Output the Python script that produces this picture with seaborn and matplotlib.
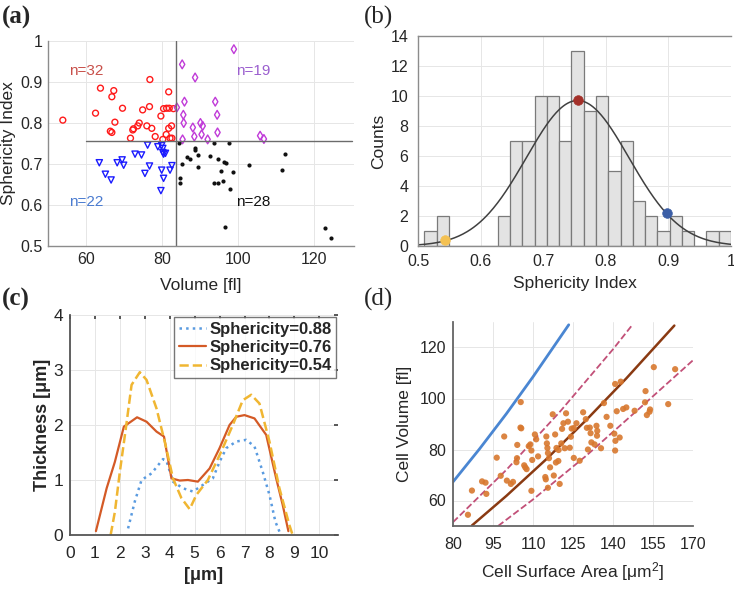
import numpy as np
import pandas as pd
import matplotlib
matplotlib.use("Agg")
import matplotlib.pyplot as plt
import seaborn as sns

# ---------------- Panel (a) data: volume vs sphericity ----------------
red_vol = [53.9, 62.5, 63.8, 67.3, 66.8, 69.6, 67.6, 66.4, 66.8, 71.7, 72.3, 72.5,
           73.6, 74.0, 74.9, 76.0, 76.7, 76.8, 77.3, 78.2, 79.7, 80.2, 81.1, 81.2,
           81.75, 81.9, 81.75, 82.5, 82.1, 82.6, 83.0, 80.4]
red_sph = [0.807, 0.824, 0.885, 0.879, 0.864, 0.836, 0.802, 0.780, 0.777, 0.763, 0.783, 0.786,
           0.793, 0.800, 0.832, 0.793, 0.840, 0.906, 0.787, 0.767, 0.817, 0.760, 0.772, 0.836,
           0.876, 0.836, 0.787, 0.793, 0.763, 0.763, 0.835, 0.835]
mag_vol = [83.9, 85.3, 98.9, 88.7, 85.9, 85.6, 85.7, 88.1, 85.4, 88.5, 90.1, 90.7,
           90.4, 92.0, 94.0, 94.5, 94.6, 105.8, 106.8]
mag_sph = [0.838, 0.943, 0.980, 0.911, 0.852, 0.820, 0.800, 0.789, 0.760, 0.767, 0.800, 0.793,
           0.772, 0.760, 0.852, 0.820, 0.777, 0.769, 0.761]
blue_vol = [63.5, 65.1, 66.6, 68.2, 69.5, 69.9, 72.9, 74.6, 75.5, 76.7, 76.2, 78.9,
            79.9, 80.2, 80.2, 80.4, 80.9, 79.9, 80.4, 79.7, 82.1, 82.6]
blue_sph = [0.703, 0.675, 0.661, 0.703, 0.710, 0.697, 0.724, 0.722, 0.677, 0.695, 0.746, 0.742,
            0.745, 0.738, 0.728, 0.724, 0.726, 0.685, 0.665, 0.635, 0.685, 0.696]
blk_vol = [84.4, 85.2, 84.8, 84.7, 86.5, 87.4, 88.7, 88.8, 89.4, 89.4, 92.6, 93.6,
           93.6, 94.8, 94.8, 95.4, 96.1, 96.4, 96.8, 97.7, 96.6, 98.0, 98.6, 103.0,
           111.6, 112.4, 123.0, 124.5]
blk_sph = [0.752, 0.699, 0.665, 0.654, 0.718, 0.712, 0.738, 0.734, 0.721, 0.693, 0.720, 0.752,
           0.653, 0.653, 0.711, 0.683, 0.659, 0.704, 0.702, 0.752, 0.547, 0.638, 0.680, 0.698,
           0.685, 0.724, 0.545, 0.519]
vol_split = 83.7
sph_split = 0.756
group_labels = ["n=32", "n=19", "n=22", "n=28"]

# ---------------- Panel (b) data: histogram ----------------
bin_edges = [0.51 + 0.0196 * k for k in range(26)]
bin_counts = [1, 2, 0, 0, 0, 0, 2, 7, 7, 10, 10, 7, 13, 9, 10, 5, 7, 3, 2, 1, 2, 1, 0, 1, 1]
fit_mean, fit_sigma, fit_peak = 0.755, 0.082, 9.7
mark_x = [0.756, 0.897, 0.543]
mark_y = [9.75, 2.2, 0.4]
mark_colors = ["#a33029", "#3b5ea6", "#f4c152"]

# ---------------- Panel (c) data: thickness profiles ----------------
p088_x = [2.33, 2.6, 2.87, 3.27, 3.73, 3.87, 4.13, 4.53, 4.93, 5.33, 5.73, 6.0, 6.27, 6.67,
          7.07, 7.4, 7.73, 8.0, 8.24, 8.43]
p088_y = [0.12, 0.61, 1.0, 1.12, 1.38, 1.35, 0.97, 0.85, 0.79, 0.91, 1.03, 1.33, 1.58, 1.7,
          1.73, 1.61, 1.15, 0.73, 0.24, 0.03]
p076_x = [1.04, 1.47, 1.8, 2.16, 2.69, 3.07, 3.47, 3.77, 4.07, 4.4, 4.73, 5.13, 5.6, 6.0,
          6.4, 6.67, 7.0, 7.4, 7.87, 8.27, 8.53, 8.76]
p076_y = [0.07, 0.85, 1.33, 1.97, 2.14, 2.06, 1.88, 1.79, 1.03, 0.99, 1.0, 0.97, 1.21, 1.58,
          2.0, 2.15, 2.18, 2.12, 1.82, 1.03, 0.55, 0.07]
p054_x = [1.63, 1.8, 2.0, 2.24, 2.47, 2.8, 3.07, 3.47, 3.83, 4.13, 4.47, 4.8, 5.07, 5.53,
          6.07, 6.53, 6.93, 7.27, 7.6, 8.0, 8.4, 8.8, 8.93]
p054_y = [0.0, 0.42, 1.15, 1.94, 2.73, 2.96, 2.82, 2.3, 1.64, 1.03, 0.67, 0.47, 0.73, 1.0,
          1.52, 2.0, 2.45, 2.55, 2.39, 1.7, 0.85, 0.18, 0.0]
profile_names = ["Sphericity=0.88", "Sphericity=0.76", "Sphericity=0.54"]

# ---------------- Panel (d) data: surface area vs volume ----------------
area = [85.6, 87.1, 90.9, 92.2, 92.5, 96.4, 97.9, 99.2, 100.2, 101.7, 102.5, 103.8, 104.0,
        104.1, 105.3, 105.6, 105.4, 106.7, 107.1, 107.6, 108.4, 109.0, 109.4, 109.7, 109.4,
        110.7, 111.2, 111.9, 114.6, 114.8, 115.0, 115.2, 115.4, 115.6, 116.0, 116.4, 115.6,
        117.4, 118.3, 118.8, 117.8, 118.6, 119.5, 119.6, 120.0, 120.6, 120.9, 121.4, 121.9,
        122.4, 123.1, 123.8, 124.2, 124.5, 125.3, 125.3, 126.3, 127.5, 128.8, 129.8, 130.6,
        130.2, 131.3, 131.6, 131.9, 133.1, 133.8, 134.1, 134.0, 135.5, 136.6, 137.6, 139.0,
        140.5, 140.9, 140.8, 140.8, 141.4, 142.5, 142.9, 143.8, 145.0, 148.1, 152.2, 152.0,
        152.7, 153.9, 153.7, 155.3, 160.7, 163.3]
volume = [54.4, 63.9, 67.5, 67.0, 62.6, 76.8, 69.7, 85.1, 67.8, 66.5, 67.3, 75.0, 76.6,
          81.8, 88.6, 88.3, 98.6, 73.8, 73.0, 72.3, 81.3, 82.0, 79.6, 75.9, 63.8,
          85.9, 84.0, 77.3, 69.2, 68.3, 85.1, 82.4, 80.6, 78.6, 76.6, 73.0, 65.0,
          93.8, 85.9, 80.6, 69.8, 74.9, 75.5, 79.8, 66.5, 82.4, 88.1, 90.3, 80.5,
          94.2, 90.9, 80.7, 85.0, 88.2, 76.7, 88.4, 90.3, 75.6, 94.6, 91.9, 80.0,
          88.5, 88.6, 86.4, 82.8, 82.0, 89.3, 87.3, 85.4, 80.5, 98.2, 92.8, 89.3,
          86.2, 83.4, 79.6, 105.7, 95.0, 84.7, 106.6, 95.9, 96.5, 95.2, 102.9, 98.5,
          93.5, 95.7, 94.8, 112.3, 97.8, 111.5]
sphere_A = [80.0, 90.0, 100.0, 110.0, 123.4]
sphere_V = [67.3, 80.3, 94.0, 108.5, 128.9]
mean_A = [87.1, 100.0, 115.0, 130.0, 145.0, 163.0]
mean_V = [50.2, 61.8, 76.2, 91.6, 107.9, 128.6]
upper_A = [80.0, 100.0, 120.0, 140.0, 147.5]
upper_V = [51.5, 72.0, 94.7, 119.3, 129.2]
lower_A = [96.9, 110.0, 130.0, 150.0, 170.0]
lower_V = [50.0, 60.4, 77.6, 96.2, 115.0]

# ---------------- Styling ----------------
sns.set_theme(style="white")
plt.rcParams["font.family"] = ["Liberation Sans", "DejaVu Sans"]
plt.rcParams["text.color"] = "#262626"
plt.rcParams["axes.labelcolor"] = "#262626"
plt.rcParams["xtick.color"] = "#262626"
plt.rcParams["ytick.color"] = "#262626"
plt.rcParams["mathtext.default"] = "regular"

W, H = 734, 589
fig = plt.figure(figsize=(W / 100, H / 100), dpi=100)


def add_ax(l, t, r, b):
    return fig.add_axes([l / W, 1 - b / H, (r - l) / W, (b - t) / H])


grid_kw = dict(color="#e6e6e6", linewidth=0.7)

# ---- (a) ----
axa = add_ax(48, 41, 354, 246)
sns.scatterplot(x=red_vol, y=red_sph, ax=axa, marker="o", s=18, facecolors="none",
                edgecolor="#ff1a1a", linewidth=1.0)
sns.scatterplot(x=mag_vol, y=mag_sph, ax=axa, marker="d", s=20, facecolors="none",
                edgecolor="#c03ad8", linewidth=1.0)
sns.scatterplot(x=blue_vol, y=blue_sph, ax=axa, marker="v", s=20, facecolors="none",
                edgecolor="#1a1aff", linewidth=1.0)
sns.scatterplot(x=blk_vol, y=blk_sph, ax=axa, marker="o", s=9, color="#111111",
                edgecolor="#111111", linewidth=0)
axa.plot([vol_split, vol_split], [0.5, 1.0], color="#6b6b6b", lw=1.0, zorder=1)
axa.plot([60, 130], [sph_split, sph_split], color="#6b6b6b", lw=1.0, zorder=1)
axa.set_xlim(50, 130.5)
axa.set_ylim(0.5, 1.0)
axa.set_xticks([60, 80, 100, 120])
axa.set_yticks([0.5, 0.6, 0.7, 0.8, 0.9, 1.0])
axa.set_yticklabels(["0.5", "0.6", "0.7", "0.8", "0.9", "1"])
axa.grid(True, **grid_kw)
axa.set_axisbelow(True)
for s in ["top", "right"]:
    axa.spines[s].set_visible(False)
for s in ["left", "bottom"]:
    axa.spines[s].set_color("#8c8c8c")
    axa.spines[s].set_linewidth(1.0)
axa.tick_params(labelsize=11.5, length=0, pad=4)
axa.set_xlabel("Volume [fl]", fontsize=12.5, labelpad=8)
axa.set_ylabel("Sphericity Index", fontsize=12.5, labelpad=3)
axa.text(55.5, 0.928, group_labels[0], color="#c8504a", fontsize=11, va="center")
axa.text(99.5, 0.928, group_labels[1], color="#9b5fcf", fontsize=11, va="center")
axa.text(55.5, 0.608, group_labels[2], color="#4a7bd0", fontsize=11, va="center")
axa.text(99.5, 0.607, group_labels[3], color="#111111", fontsize=11, va="center")

# ---- (b) ----
axb = add_ax(418, 36, 731, 246)
centers = [(bin_edges[i] + bin_edges[i + 1]) / 2 for i in range(len(bin_counts))]
sns.histplot(x=centers, weights=bin_counts, bins=bin_edges, ax=axb, color="#e3e3e3",
             edgecolor="#7a7a7a", linewidth=0.9, alpha=1.0)
xs = np.linspace(0.5, 1.0, 300)
fit_y = fit_peak * np.exp(-0.5 * ((xs - fit_mean) / fit_sigma) ** 2)
sns.lineplot(x=xs, y=fit_y, ax=axb, color="#404040", linewidth=1.1)
for mx, my, mc in zip(mark_x, mark_y, mark_colors):
    axb.scatter([mx], [my], s=48, color=mc, edgecolor=mc, linewidth=0.5, zorder=5)
axb.set_xlim(0.5, 1.0)
axb.set_ylim(0, 14)
axb.set_xticks([0.5, 0.6, 0.7, 0.8, 0.9, 1.0])
axb.set_xticklabels(["0.5", "0.6", "0.7", "0.8", "0.9", "1"])
axb.set_yticks(range(0, 15, 2))
axb.grid(True, **grid_kw)
axb.set_axisbelow(True)
axb.spines["right"].set_visible(False)
for s in ["left", "bottom", "top"]:
    axb.spines[s].set_color("#8c8c8c")
    axb.spines[s].set_linewidth(1.0)
axb.tick_params(labelsize=11.5, length=0)
axb.tick_params(axis="y", pad=7)
axb.tick_params(axis="x", pad=6)
axb.set_xlabel("Sphericity Index", fontsize=12.5, labelpad=5)
axb.set_ylabel("Counts", fontsize=12.5, labelpad=3)

# ---- (c) ----
axc = add_ax(70, 315, 338, 535)
prof = [(p088_x, p088_y, "#5a9be0", ":", 1.8),
        (p076_x, p076_y, "#d45a26", "-", 1.6),
        (p054_x, p054_y, "#f0b632", "--", 1.8)]
for (px, py, col, ls, lw), name in zip(prof, profile_names):
    sns.lineplot(x=px, y=py, ax=axc, color=col, linestyle=ls, linewidth=lw, sort=False,
                 estimator=None, label=name)
axc.set_xlim(0, 10.75)
axc.set_ylim(0, 4)
axc.set_xticks(range(0, 11))
axc.set_yticks(range(0, 5))
axc.grid(True, **grid_kw)
axc.set_axisbelow(True)
for s in ["top", "right"]:
    axc.spines[s].set_visible(False)
for s in ["left", "bottom"]:
    axc.spines[s].set_color("#555555")
    axc.spines[s].set_linewidth(1.3)
axc.tick_params(labelsize=12.5, length=3, direction="in", top=True, right=True,
                color="#444444")
axc.tick_params(axis="x", pad=8)
axc.tick_params(axis="y", pad=5)
axc.set_xlabel("[μm]", fontsize=13, labelpad=4, fontweight="bold")
axc.set_ylabel("Thickness [μm]", fontsize=13, labelpad=2, fontweight="bold")
leg = axc.legend(loc="upper right", frameon=True, fancybox=False,
                 borderaxespad=0.1, handlelength=1.6, handletextpad=0.2,
                 borderpad=0.3, labelspacing=0.2, prop={"weight": "bold", "size": 12})
leg.get_frame().set_edgecolor("#555555")
leg.get_frame().set_linewidth(1.0)

# ---- (d) ----
axd = add_ax(453, 322, 693, 526)
sns.scatterplot(x=area, y=volume, ax=axd, color="#d8782e", s=20, edgecolor="none",
                alpha=0.9, zorder=3)
sns.lineplot(x=sphere_A, y=sphere_V, ax=axd, color="#4a86d2", linewidth=2.0, sort=False,
             estimator=None)
sns.lineplot(x=mean_A, y=mean_V, ax=axd, color="#8a3a12", linewidth=1.8, sort=False,
             estimator=None)
sns.lineplot(x=upper_A, y=upper_V, ax=axd, color="#c25078", linewidth=1.3, linestyle="--",
             sort=False, estimator=None)
sns.lineplot(x=lower_A, y=lower_V, ax=axd, color="#c25078", linewidth=1.3, linestyle="--",
             sort=False, estimator=None)
axd.set_xlim(80, 170)
axd.set_ylim(50, 130)
axd.set_xticks(range(80, 171, 15))
axd.set_yticks([60, 80, 100, 120])
axd.grid(True, **grid_kw)
axd.set_axisbelow(True)
for s in ["top", "right"]:
    axd.spines[s].set_visible(False)
for s in ["left", "bottom"]:
    axd.spines[s].set_color("#666666")
    axd.spines[s].set_linewidth(1.3)
axd.tick_params(labelsize=11.5, length=0)
axd.tick_params(axis="x", pad=8)
axd.tick_params(axis="y", pad=5)
axd.set_xlabel("Cell Surface Area [μm$^2$]", fontsize=12.5, labelpad=6)
axd.set_ylabel("Cell Volume [fl]", fontsize=12.5, labelpad=5)

# ---- panel letters ----
serif = ["Liberation Serif", "DejaVu Serif"]
fig.text(2 / W, 1 - 17 / H, "(a)", fontsize=18, family=serif, fontweight="bold", va="center")
fig.text(364 / W, 1 - 17 / H, "(b)", fontsize=18, family=serif, va="center")
fig.text(2 / W, 1 - 299 / H, "(c)", fontsize=18, family=serif, fontweight="bold", va="center")
fig.text(364 / W, 1 - 299 / H, "(d)", fontsize=18, family=serif, va="center")

fig.savefig("out.png", dpi=100)
